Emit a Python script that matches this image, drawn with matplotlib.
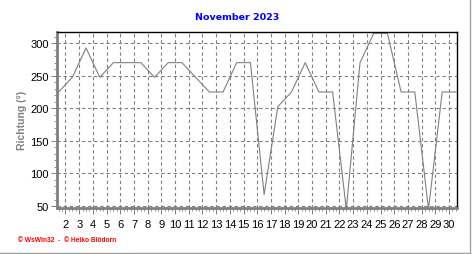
import matplotlib
matplotlib.use("Agg")
import matplotlib.pyplot as plt
from matplotlib.lines import Line2D
from matplotlib.ticker import MultipleLocator

# Windrichtung, Tageswerte November 2023
tage = list(range(1, 31))
richtung = [225, 247.5, 292.5, 247.5, 270, 270, 270, 247.5, 270, 270,
            247.5, 225, 225, 270, 270, 67.5, 202.5, 225, 270, 225,
            225, 45, 270, 315, 315, 225, 225, 45, 225, 225]
x_ticks = list(range(2, 31))
y_ticks = [50, 100, 150, 200, 250, 300]

plt.rcParams['font.family'] = ['Liberation Sans', 'DejaVu Sans']

fig = plt.figure(figsize=(4.72, 2.55), dpi=100)
ax = fig.add_axes([57/472, 1-209/255, 400/472, 176/255])

# Werte liegen jeweils in der Tagesmitte
xs = [t + 0.5 for t in tage]
ax.plot(xs, richtung, color='#808080', linewidth=0.8)

ax.set_xlim(1.38, 30.58)
ax.set_ylim(47, 317)
ax.set_xticks(x_ticks)
ax.set_xticklabels([str(t) for t in x_ticks])
ax.set_yticks(y_ticks)
ax.xaxis.set_minor_locator(MultipleLocator(0.25))
ax.yaxis.set_minor_locator(MultipleLocator(10))

ax.grid(True, which='major', color='#808080', linestyle=(0, (3, 2.5)), linewidth=0.8)
ax.tick_params(axis='both', which='major', labelsize=8, length=4, width=0.7,
               color='#808080', pad=2)
ax.tick_params(axis='both', which='minor', length=2, width=0.6, color='#808080')
ax.tick_params(axis='x', which='major', pad=4)

for s in ['left', 'bottom']:
    ax.spines[s].set_color('#808080')
    ax.spines[s].set_linewidth(2.0)
for s in ['top', 'right']:
    ax.spines[s].set_color('black')
    ax.spines[s].set_linewidth(1.0)

fig.text(0.502, 0.93, 'November 2023', color='#0000ff', fontsize=6.8,
         fontweight='bold', ha='center', va='center', family=['DejaVu Sans'])
fig.text(22/472, 1-120/255, 'Richtung (°)', color='#808080', fontsize=7.5,
         fontweight='bold', rotation=90, ha='center', va='center')
fig.text(18/472, 1-241/255, '© WsWin32  -  © Heiko Blödorn', color='#ff0000',
         fontsize=4.8, fontweight='bold', ha='left', va='center')

# Rahmen rechts und unten
fig.add_artist(Line2D([469.5/472, 469.5/472], [0, 1], color='#a0a0a0', linewidth=1.0))
fig.add_artist(Line2D([0, 470/472], [1/255, 1/255], color='#a0a0a0', linewidth=1.0))

fig.savefig('out.png', dpi=100)
